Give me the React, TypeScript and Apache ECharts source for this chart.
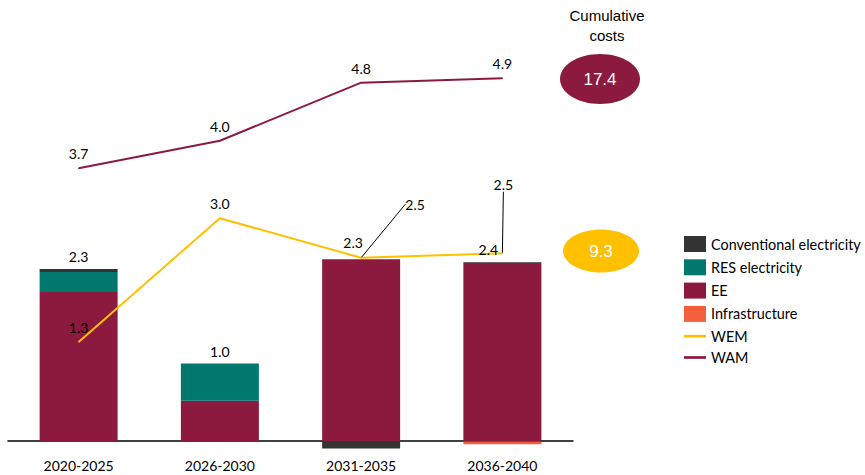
import React, { useEffect, useRef } from "react";
import * as echarts from "echarts";

const categories = ["2020-2025", "2026-2030", "2031-2035", "2036-2040"];
const ee = [2.0, 0.54, 2.44, 2.39];
const res = [0.27, 0.5, 0, -0.015];
const conventional = [0.04, 0, -0.1, 0.01];
const infrastructure = [0, 0, 0, -0.03];
const wem = [1.33, 2.99, 2.46, 2.52];
const wam = [3.66, 4.03, 4.81, 4.87];
const cumulativeWAM = "17.4";
const cumulativeWEM = "9.3";

const C_CONV = "#333333";
const C_RES = "#00786E";
const C_EE = "#8C1A3E";
const C_INF = "#F4603C";
const C_WEM = "#FFC000";
const C_WAM = "#8C1A3E";
const FONT = "Lato";

const Y_MIN = -0.12;
const Y_MAX = 5.5;
const ZERO_Y = 441;
const PX_PER_UNIT = 74.5;

export default function App() {
  const ref = useRef<HTMLDivElement>(null);
  useEffect(() => {
    if (!ref.current) return;
    const chart = echarts.init(ref.current, null, { renderer: "svg" });
    const stacks = [ee, res, conventional, infrastructure];
    const posTop = categories.map((_, i) =>
      stacks.reduce((s, a) => s + (a[i] > 0 ? a[i] : 0), 0)
    );
    const net = categories.map((_, i) => stacks.reduce((s, a) => s + a[i], 0));
    const totalOffsets: number[][] = [
      [0, 0],
      [0, 0],
      [-8, -4],
      [-14, 0],
    ];
    const wemMoves: Record<number, number[]> = { 2: [54, -39], 3: [1, -54] };

    const gridTop = ZERO_Y - Y_MAX * PX_PER_UNIT;
    const gridBottom = 475 - (ZERO_Y - Y_MIN * PX_PER_UNIT);

    const barBase = {
      type: "bar",
      stack: "cost",
      barWidth: 78,
      clip: false,
      emphasis: { disabled: true },
    };
    const lineIcon = "path://M0,0H18V2.2H0Z";

    chart.setOption({
      animation: false,
      textStyle: { fontFamily: FONT },
      grid: {
        left: 8,
        right: 292,
        top: gridTop,
        bottom: gridBottom,
        containLabel: false,
        outerBoundsMode: "none",
      },
      xAxis: {
        type: "category",
        data: categories,
        axisLine: { onZero: true, lineStyle: { color: "#000", width: 1.5 } },
        axisTick: { show: false },
        axisLabel: { color: "#000", fontSize: 14, fontFamily: FONT, margin: 9 },
      },
      yAxis: {
        type: "value",
        min: Y_MIN,
        max: Y_MAX,
        show: false,
        splitLine: { show: false },
      },
      legend: {
        orient: "vertical",
        left: 679,
        top: 231,
        itemWidth: 22,
        itemHeight: 16,
        itemGap: 7.3,
        selectedMode: false,
        textStyle: { color: "#000", fontSize: 14.4, fontFamily: FONT },
        data: [
          { name: "Conventional electricity", icon: "rect" },
          { name: "RES electricity", icon: "rect" },
          { name: "EE", icon: "rect" },
          { name: "Infrastructure", icon: "rect" },
          { name: "WEM", icon: lineIcon, itemStyle: { color: C_WEM } },
          { name: "WAM", icon: lineIcon, itemStyle: { color: C_WAM } },
        ],
      },
      series: [
        { ...barBase, name: "EE", data: ee, itemStyle: { color: C_EE } },
        { ...barBase, name: "RES electricity", data: res, itemStyle: { color: C_RES } },
        {
          ...barBase,
          name: "Conventional electricity",
          data: conventional,
          itemStyle: { color: C_CONV },
        },
        {
          ...barBase,
          name: "Infrastructure",
          data: infrastructure,
          itemStyle: { color: C_INF },
        },
        {
          type: "scatter",
          name: "total",
          symbolSize: 1,
          itemStyle: { color: "#ffffff", opacity: 0 },
          silent: true,
          z: 5,
          data: posTop.map((v, i) => ({
            value: v,
            label: {
              show: true,
              position: "top",
              distance: 5,
              offset: totalOffsets[i],
              formatter: net[i].toFixed(1),
              color: "#000",
              opacity: 1,
              fontSize: 14,
              fontFamily: FONT,
            },
          })),
        },
        {
          type: "line",
          name: "WEM",
          data: wem.map((v, i) => ({
            value: v,
            labelLine: {
              show: !!wemMoves[i],
              lineStyle: { color: "#000", width: 1 },
            },
          })),
          symbol: "circle",
          symbolSize: 1,
          showSymbol: true,
          z: 4,
          lineStyle: { color: C_WEM, width: 2 },
          itemStyle: { color: C_WEM },
          label: {
            show: true,
            position: "top",
            distance: 7,
            color: "#000",
            fontSize: 14,
            fontFamily: FONT,
            formatter: (p: any) => Number(p.value).toFixed(1),
          },
          labelLine: { show: false, lineStyle: { color: "#000", width: 1 } },
          labelLayout: (p: any) => {
            const m = wemMoves[p.dataIndex];
            if (!m) return {};
            return {
              x: p.labelRect.x + p.labelRect.width / 2 + m[0],
              y: p.labelRect.y + p.labelRect.height / 2 + m[1],
              align: "center",
              verticalAlign: "middle",
            };
          },
          emphasis: { disabled: true },
        },
        {
          type: "line",
          name: "WAM",
          data: wam,
          symbol: "circle",
          symbolSize: 1,
          showSymbol: true,
          z: 4,
          lineStyle: { color: C_WAM, width: 2 },
          itemStyle: { color: C_WAM },
          label: {
            show: true,
            position: "top",
            distance: 7,
            color: "#000",
            fontSize: 14,
            fontFamily: FONT,
            formatter: (p: any) => Number(p.value).toFixed(1),
          },
          emphasis: { disabled: true },
        },
      ],
      graphic: [
        {
          type: "text",
          x: 607,
          y: 5,
          style: {
            text: "Cumulative\ncosts",
            align: "center",
            verticalAlign: "top",
            fill: "#000",
            fontSize: 15,
            lineHeight: 20,
            fontFamily: "Liberation Sans",
          },
        },
        {
          type: "ellipse",
          shape: { cx: 600, cy: 79, rx: 40, ry: 25 },
          style: { fill: C_WAM },
        },
        {
          type: "text",
          x: 600,
          y: 79,
          style: {
            text: cumulativeWAM,
            align: "center",
            verticalAlign: "middle",
            fill: "#fff",
            fontSize: 17,
            fontFamily: "Liberation Sans",
          },
        },
        {
          type: "ellipse",
          shape: { cx: 601, cy: 251, rx: 38, ry: 21.5 },
          style: { fill: C_WEM },
        },
        {
          type: "text",
          x: 601,
          y: 251,
          style: {
            text: cumulativeWEM,
            align: "center",
            verticalAlign: "middle",
            fill: "#fff",
            fontSize: 17,
            fontFamily: "Liberation Sans",
          },
        },
      ],
    });
    return () => chart.dispose();
  }, []);
  return (
    <div
      ref={ref}
      style={{ position: "absolute", left: 0, top: 0, width: 865, height: 475 }}
    />
  );
}
